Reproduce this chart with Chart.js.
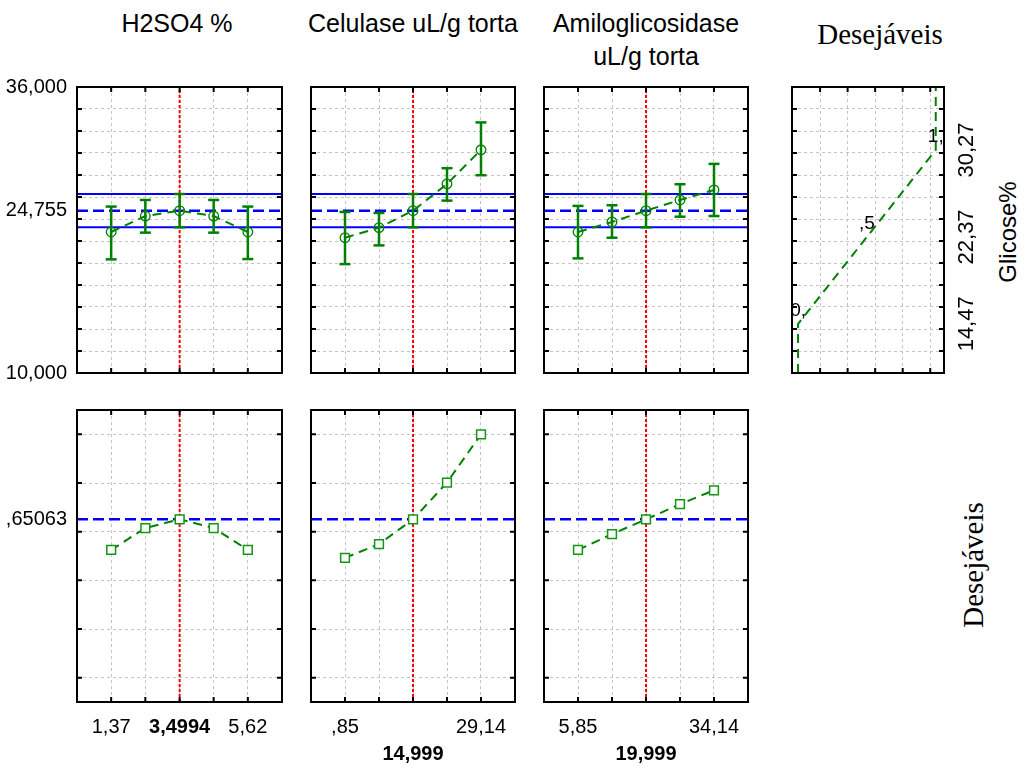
<!DOCTYPE html>
<html><head><meta charset="utf-8">
<script src="https://cdn.jsdelivr.net/npm/chart.js@4.4.0/dist/chart.umd.min.js"></script>
<style>
html,body{margin:0;padding:0;background:#fff;}
body{width:1027px;height:769px;position:relative;overflow:hidden;font-family:'Liberation Sans',Arial,sans-serif;}
canvas{position:absolute;}
.t{position:absolute;white-space:nowrap;color:#000;line-height:1;transform:translate(-50%,-50%);}
.r{transform:translate(-50%,-50%) rotate(-90deg);}
.serif{font-family:'Liberation Serif','Times New Roman',serif;}
</style></head><body>
<div class="t" style="left:177px;top:23px;font-size:25px;">H2SO4 %</div>
<div class="t" style="left:413px;top:23px;font-size:25px;">Celulase uL/g torta</div>
<div class="t" style="left:646px;top:23px;font-size:25px;">Amiloglicosidase</div>
<div class="t" style="left:646px;top:56px;font-size:25px;">uL/g torta</div>
<div class="t serif" style="left:880px;top:34px;font-size:29px;">Desejáveis</div>
<div class="t r" style="left:1008px;top:232px;font-size:24px;">Glicose%</div>
<div class="t r serif" style="left:973px;top:565px;font-size:29px;">Desejáveis</div>
<script>
// ---------- data ----------
const gliCurrent = 24.755;
const gliCI = [23.24, 26.27];
const desCurrent = 0.65063;
const h2so4Levels = [1.37, 2.4325, 3.4994, 4.5575, 5.62];
const celLevels = [0.85, 7.9225, 14.999, 22.0675, 29.14];
const amiLevels = [5.85, 12.9225, 19.999, 27.0675, 34.14];
const h2so4Gli = [22.82, 24.27, 24.755, 24.27, 22.82];
const h2so4GliLow = [20.33, 22.76, 23.24, 22.76, 20.36];
const h2so4GliHigh = [25.13, 25.73, 26.27, 25.73, 25.13];
const celGli = [22.30, 23.21, 24.755, 27.19, 30.29];
const celGliLow = [19.90, 21.60, 23.24, 25.67, 27.98];
const celGliHigh = [24.64, 24.55, 26.27, 28.62, 32.78];
const amiGli = [22.82, 23.73, 24.755, 25.73, 26.64];
const amiGliLow = [20.42, 22.30, 23.24, 24.21, 24.27];
const amiGliHigh = [25.19, 25.25, 26.27, 27.16, 29.01];
const h2so4Des = [0.525, 0.615, 0.65063, 0.615, 0.525];
const celDes = [0.492, 0.549, 0.65063, 0.802, 1.0];
const amiDes = [0.525, 0.590, 0.65063, 0.713, 0.770];
const desFuncX = [0, 0, 0.5, 1, 1];
const desFuncY = [10, 14.47, 22.37, 30.27, 36];
const desFuncLabels = ['', '0,', ',5', '1,', ''];
const desFuncGrid = [0.16, 0.36, 0.56, 0.76, 0.96];
const desFuncRange = [-0.044, 1.06];
const gliRange = [10, 36];
const gliGrid = [10,12,14,16,18,20,22,24,26,28,30,32,34,36];
const gliTickLabels = {'36':'36,000', '24.755':'24,755', '10':'10,000'};
const desRange = [-0.1, 1.1];
const desGrid = [0, 0.2, 0.4, 0.6, 0.8, 1.0];
const desTickLabels = {'0.65063':',65063'};
const gliRightValues = [30.27, 22.37, 14.47];
const gliRightLabels = ['30,27', '22,37', '14,47'];
const h2so4XLabels = ['1,37', '', '3,4994', '', '5,62'];
const celXLabels = [',85', '', ['', '14,999'], '', '29,14'];
const amiXLabels = ['5,85', '', ['', '19,999'], '', '34,14'];

// ---------- layout ----------
const COLS = [[77,282],[311,515],[544,748],[792,944]];
const ROWS = [[87,373],[410,702]];
const GREEN = 'rgb(0,128,0)', MARK = 'rgb(20,150,20)', BLUE = 'rgb(0,0,255)', RED = 'rgb(255,0,0)', GRID = '#c4c4c4';
const FONT = "'Liberation Sans', Arial, sans-serif";
const NARROW = "'Liberation Sans Narrow', 'Liberation Sans', Arial, sans-serif";

function framePlugin(skipY){
  return {id:'frame', afterDatasetsDraw(chart){
    const {ctx, chartArea:a, scales:{x,y}} = chart; const L = 5;
    ctx.save(); ctx.strokeStyle='#000'; ctx.lineWidth=2; ctx.setLineDash([]);
    ctx.beginPath();
    x.ticks.forEach(t=>{const p=x.getPixelForValue(t.value); ctx.moveTo(p,a.top); ctx.lineTo(p,a.top+L); ctx.moveTo(p,a.bottom); ctx.lineTo(p,a.bottom-L);});
    y.ticks.forEach(t=>{ if(skipY.includes(t.value)) return; const p=y.getPixelForValue(t.value); ctx.moveTo(a.left,p); ctx.lineTo(a.left+L,p); ctx.moveTo(a.right,p); ctx.lineTo(a.right-L,p);});
    ctx.stroke();
    ctx.strokeRect(a.left, a.top, a.right-a.left, a.bottom-a.top);
    ctx.restore();
  }};
}
function textPlugin(items){
  return {id:'txt', afterDraw(chart){
    const {ctx, chartArea:a, scales:{x,y}} = chart;
    items.forEach(it=>{
      const px = it.atRight ? a.right + it.dx : x.getPixelForValue(it.x) + (it.dx||0);
      const py = y.getPixelForValue(it.y) + (it.dy||0);
      ctx.save(); ctx.translate(px,py); if(it.rot) ctx.rotate(it.rot);
      ctx.font = it.font; ctx.fillStyle='#000'; ctx.textAlign='center'; ctx.textBaseline='middle';
      ctx.fillText(it.text,0,0); ctx.restore();
    });
  }};
}

function makeChart(col, row, m, datasets, xs, ys, plugins){
  const [l,r] = COLS[col], [t,b] = ROWS[row];
  const w = r-l+m.ml+m.mr, h = b-t+m.mt+m.mb;
  const c = document.createElement('canvas');
  c.width=w; c.height=h; c.style.width=w+'px'; c.style.height=h+'px';
  c.style.left=(l-m.ml)+'px'; c.style.top=(t-m.mt)+'px';
  document.body.appendChild(c);
  xs.afterFit = s => { s.height = m.mb; };
  ys.afterFit = s => { s.width = m.ml; };
  new Chart(c, {type:'scatter', data:{datasets}, plugins,
    options:{responsive:false, animation:false, devicePixelRatio:1, events:[],
      layout:{padding:{left:0, right:m.mr, top:m.mt, bottom:0}},
      plugins:{legend:{display:false}, tooltip:{enabled:false}},
      scales:{x:xs, y:ys}}});
}

function xScale(levels, labels, show, min, max){
  const lv = levels.slice();
  return {type:'linear', min, max,
    afterBuildTicks: s => { s.ticks = lv.map(v=>({value:v})); },
    grid:{color:GRID, lineWidth:1, drawTicks:false}, border:{display:false, dash:[3,3]},
    ticks:{display:show, autoSkip:false, minRotation:0, maxRotation:0, padding:12, color:'#000',
      font: ctx => ({family:NARROW, size:20, lineHeight:1.35, weight: ctx.index===2 ? 'bold' : 'normal'}),
      callback:(v,i)=> labels ? labels[i] : ''}};
}
function yScale(range, grid, special, labels, show){
  const vals = grid.concat([special]).sort((a,b)=>a-b);
  return {type:'linear', min:range[0], max:range[1],
    afterBuildTicks: s => { s.ticks = vals.map(v=>({value:v})); },
    grid:{color: ctx => (ctx.tick && ctx.tick.value===special) ? 'rgba(0,0,0,0)' : GRID, lineWidth:1, drawTicks:false},
    border:{display:false, dash:[3,3]},
    ticks:{display:show, autoSkip:false, padding:10, color:'#000', font:{family:FONT, size:20},
      callback:(v)=> labels[String(v)] || ''}};
}
function lineDs(points, color, width, dash){
  return {data:points, showLine:true, borderColor:color, borderWidth:width, borderDash:dash, pointRadius:0, fill:false};
}

const factors = [
  {levels:h2so4Levels, gli:h2so4Gli, lo:h2so4GliLow, hi:h2so4GliHigh, des:h2so4Des, labels:h2so4XLabels},
  {levels:celLevels, gli:celGli, lo:celGliLow, hi:celGliHigh, des:celDes, labels:celXLabels},
  {levels:amiLevels, gli:amiGli, lo:amiGliLow, hi:amiGliHigh, des:amiDes, labels:amiXLabels}
];

factors.forEach((f, k) => {
  const step = (f.levels[4]-f.levels[0])/4;
  const xmin = f.levels[0]-step, xmax = f.levels[4]+step, cur = f.levels[2];
  const errPts = [];
  f.levels.forEach((x,i)=>{ errPts.push({x, y:f.lo[i]}, {x, y:f.hi[i]}, {x, y:null}); });
  const topDs = [
    {data:f.levels.map((x,i)=>({x, y:f.gli[i]})), showLine:true, borderColor:GREEN, borderWidth:2, borderDash:[9,6],
      pointStyle:'circle', pointRadius:4.8, pointBorderColor:GREEN, pointBackgroundColor:'rgba(0,0,0,0)', pointBorderWidth:1.3},
    {data:errPts, showLine:true, spanGaps:false, borderColor:GREEN, borderWidth:2.5, pointStyle:'line', pointRadius:5.5,
      pointBorderColor:GREEN, pointBorderWidth:2.5},
    lineDs([{x:cur,y:gliRange[0]},{x:cur,y:gliRange[1]}], RED, 2, [3,2]),
    lineDs([{x:xmin,y:gliCurrent},{x:xmax,y:gliCurrent}], BLUE, 2.5, [11,5]),
    lineDs([{x:xmin,y:gliCI[1]},{x:xmax,y:gliCI[1]}], BLUE, 2, []),
    lineDs([{x:xmin,y:gliCI[0]},{x:xmax,y:gliCI[0]}], BLUE, 2, [])
  ];
  const mTop = k===0 ? {ml:77, mr:10, mt:30, mb:30} : {ml:10, mr:10, mt:30, mb:30};
  makeChart(k, 0, mTop, topDs, xScale(f.levels, null, false, xmin, xmax),
    yScale(gliRange, gliGrid, gliCurrent, gliTickLabels, k===0), [framePlugin([gliCurrent])]);
  const botDs = [
    {data:f.levels.map((x,i)=>({x, y:f.des[i]})), showLine:true, borderColor:GREEN, borderWidth:2, borderDash:[9,6],
      pointStyle:'rect', pointRadius:6.2, pointBorderColor:MARK, pointBackgroundColor:'#fff', pointBorderWidth:1.5},
    lineDs([{x:cur,y:desRange[0]},{x:cur,y:desRange[1]}], RED, 2, [3,2]),
    lineDs([{x:xmin,y:desCurrent},{x:xmax,y:desCurrent}], BLUE, 2.5, [11,5])
  ];
  const mBot = k===0 ? {ml:77, mr:10, mt:30, mb:67} : {ml:10, mr:10, mt:30, mb:67};
  makeChart(k, 1, mBot, botDs, xScale(f.levels, f.labels, true, xmin, xmax),
    yScale(desRange, desGrid, desCurrent, desTickLabels, k===0), [framePlugin([desCurrent])]);
});

(function(){
  const items = [];
  desFuncLabels.forEach((s,i)=>{ if(s) items.push({text:s, x:desFuncX[i], y:desFuncY[i], dy:-13, font:"19px "+FONT}); });
  gliRightValues.forEach((v,i)=> items.push({text:gliRightLabels[i], atRight:true, dx:23, y:v, rot:-Math.PI/2, font:"22px "+FONT}));
  const ds = [{data:desFuncX.map((x,i)=>({x, y:desFuncY[i]})), showLine:true, borderColor:GREEN, borderWidth:2, borderDash:[9,6], pointRadius:0}];
  const xs = {type:'linear', min:desFuncRange[0], max:desFuncRange[1],
    afterBuildTicks: s => { s.ticks = desFuncGrid.map(v=>({value:v})); },
    grid:{color:GRID, lineWidth:1, drawTicks:false}, border:{display:false, dash:[3,3]}, ticks:{display:false}};
  const ys = {type:'linear', min:gliRange[0], max:gliRange[1],
    afterBuildTicks: s => { s.ticks = gliGrid.map(v=>({value:v})); },
    grid:{color:GRID, lineWidth:1, drawTicks:false}, border:{display:false, dash:[3,3]}, ticks:{display:false}};
  makeChart(3, 0, {ml:10, mr:83, mt:30, mb:30}, ds, xs, ys, [framePlugin([]), textPlugin(items)]);
})();
</script>
</body></html>
